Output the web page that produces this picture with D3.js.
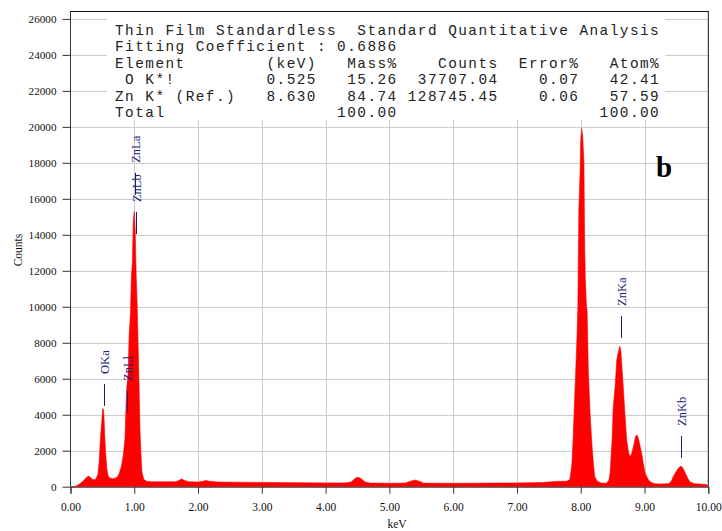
<!DOCTYPE html>
<html>
<head>
<meta charset="utf-8">
<script src="https://cdn.jsdelivr.net/npm/d3@7"></script>
<style>
  html, body { margin: 0; padding: 0; background: #fff; }
  svg { display: block; }
</style>
</head>
<body>
<svg id="chart" width="722" height="531"></svg>
<script>
// ---- Data ----
const spectrumKeV = [0.00,0.06,0.08,0.12,0.16,0.20,0.24,0.28,0.31,0.34,0.37,0.40,0.43,0.45,0.47,0.49,0.505,0.52,0.535,0.55,0.57,0.59,0.62,0.66,0.70,0.74,0.77,0.80,0.83,0.855,0.87,0.88,0.905,0.92,0.94,0.955,0.97,0.985,1.00,1.015,1.03,1.045,1.06,1.075,1.09,1.105,1.12,1.15,1.20,1.25,1.40,1.55,1.65,1.70,1.74,1.78,1.85,2.00,2.08,2.12,2.18,2.30,2.60,2.90,3.20,3.60,4.00,4.30,4.40,4.46,4.50,4.55,4.62,4.70,5.00,5.25,5.32,5.40,5.47,5.53,5.80,6.20,6.60,7.00,7.40,7.60,7.70,7.78,7.83,7.86,7.88,7.90,7.92,7.94,7.955,7.97,7.99,8.00,8.015,8.03,8.05,8.06,8.07,8.09,8.10,8.12,8.145,8.17,8.20,8.22,8.26,8.32,8.40,8.44,8.46,8.49,8.51,8.54,8.565,8.59,8.615,8.63,8.66,8.69,8.72,8.75,8.77,8.80,8.83,8.86,8.885,8.91,8.955,8.98,9.01,9.05,9.085,9.15,9.25,9.38,9.42,9.45,9.49,9.53,9.57,9.60,9.64,9.68,9.71,9.78,9.90,9.97,10.00];
const spectrumCounts = [0,0,30,100,200,320,480,590,530,420,380,440,700,1400,2700,3600,4350,4250,3000,1900,1000,600,470,440,470,560,800,1150,1800,2700,4500,5400,6400,8500,9600,11700,12400,14800,15300,14200,11700,10200,7900,5600,3100,1800,800,400,290,280,270,270,280,350,430,360,280,260,300,350,300,260,250,240,230,220,210,210,260,450,520,470,260,200,190,200,290,370,300,200,190,190,200,210,230,290,300,300,400,1200,2600,4500,6300,8200,10000,15400,17500,19300,19900,19500,18000,14000,11700,10000,9800,6300,4200,2600,1200,560,300,200,190,350,750,2500,4450,5600,7050,7500,7800,7500,5900,4200,2600,1900,1650,1850,2300,2800,2870,2600,1860,1300,750,450,280,170,150,170,300,560,800,1020,1150,1050,750,450,280,170,140,130,0];

const xTicks = [0,1,2,3,4,5,6,7,8,9,10];
const yTicks = [0,2000,4000,6000,8000,10000,12000,14000,16000,18000,20000,22000,24000,26000];

const peakNames = ["OKa","ZnLl","ZnLb","ZnLa","ZnKa","ZnKb"];
const peakKeV   = [0.525, 0.884, 1.034, 1.012, 8.630, 9.570];
const peakMarkCount = [4490, 4100, 14040, 16220, 8270, 1600];

const tableTitle = "Thin Film Standardless  Standard Quantitative Analysis";
const tableFit = "Fitting Coefficient : 0.6886";
const tableHeader = ["Element","(keV)","Mass%","Counts","Error%","Atom%"];
const tElements = [" O K*!", "Zn K* (Ref.)"];
const tKeV   = ["0.525","8.630"];
const tMass  = ["15.26","84.74"];
const tCounts= ["37707.04","128745.45"];
const tError = ["0.07","0.06"];
const tAtom  = ["42.41","57.59"];
const tTotal = ["Total","100.00","100.00"];

// ---- Layout ----
const svg = d3.select("#chart");
const pL = 70.5, pR = 708.3, pB = 486.7, pT = 11;
const x = d3.scaleLinear().domain([0,10]).range([pL, pR]);
const y = d3.scaleLinear().domain([0,26440]).range([pB, pT]);

// gridlines
const grid = svg.append("g").attr("stroke","#cccccc").attr("stroke-width",1);
grid.selectAll("line.h").data(yTicks.filter(d=>d>0)).join("line")
  .attr("x1", pL).attr("x2", pR)
  .attr("y1", d=>Math.round(y(d))+0.5).attr("y2", d=>Math.round(y(d))+0.5);
grid.selectAll("line.v").data(xTicks.filter(d=>d>0 && d<10)).join("line")
  .attr("y1", pT).attr("y2", pB)
  .attr("x1", d=>Math.round(x(d))+0.5).attr("x2", d=>Math.round(x(d))+0.5);

// table box
svg.append("rect").attr("x",107).attr("y",12).attr("width",558).attr("height",108).attr("fill","#fff");

const rows = [
  tableTitle,
  tableFit,
  tableHeader[0].padEnd(15) + tableHeader[1].padStart(5) + tableHeader[2].padStart(8) + tableHeader[3].padStart(10) + tableHeader[4].padStart(8) + tableHeader[5].padStart(8)
];
tElements.forEach((e,i)=>{
  rows.push(e.padEnd(15) + tKeV[i].padStart(5) + tMass[i].padStart(8) + tCounts[i].padStart(10) + tError[i].padStart(8) + tAtom[i].padStart(8));
});
rows.push(tTotal[0].padEnd(15) + "".padStart(5) + tTotal[1].padStart(8) + "".padStart(10) + "".padStart(8) + tTotal[2].padStart(8));

svg.append("g").selectAll("text").data(rows).join("text")
  .attr("x", 115).attr("y", (d,i)=>34.8 + i*16.5)
  .attr("xml:space","preserve")
  .style("white-space","pre")
  .attr("font-family","'Liberation Mono', 'Courier New', monospace")
  .attr("font-size", 14.4)
  .attr("letter-spacing", 1.46)
  .attr("fill","#222")
  .text(d=>d);

// spectrum
const pts = spectrumKeV.map((k,i)=>[k, spectrumCounts[i]]);
const area = d3.area().x(d=>x(d[0])).y0(y(0)).y1(d=>y(d[1])).curve(d3.curveLinear);
svg.append("path").datum(pts).attr("d", area).attr("fill","#ff0000").attr("stroke","#ff0000").attr("stroke-width",0.6);

// frame top & right
svg.append("line").attr("x1",pL).attr("x2",pR).attr("y1",pT+0.5).attr("y2",pT+0.5).attr("stroke","#111");
svg.append("line").attr("x1",pR).attr("x2",pR).attr("y1",pT).attr("y2",pB).attr("stroke","#111");

// axes
const xAxis = d3.axisBottom(x).tickValues(xTicks).tickFormat(d3.format(".2f")).tickSize(7).tickPadding(9);
const gx = svg.append("g").attr("transform",`translate(0,${pB})`).call(xAxis);
const yAxis = d3.axisLeft(y).tickValues(yTicks).tickFormat(d=>String(d)).tickSize(8).tickPadding(6);
const gy = svg.append("g").attr("transform",`translate(${pL},0)`).call(yAxis);
[gx, gy].forEach(g=>{
  g.select(".domain").attr("stroke","#333");
  g.selectAll(".tick line").attr("stroke","#333");
  g.selectAll("text").attr("font-family","'Liberation Serif', 'Times New Roman', serif").attr("font-size",11.5).attr("fill","#111");
});
gy.select(".domain").attr("d", `M0,${pT}V${pB}`);
gy.selectAll("text").attr("font-size",11.2);

// axis labels
svg.append("text").attr("x",397).attr("y",528).attr("text-anchor","middle")
  .attr("font-family","'Liberation Serif', serif").attr("font-size",11.5).attr("fill","#111").text("keV");
svg.append("text").attr("transform","translate(22,250) rotate(-90)").attr("text-anchor","middle")
  .attr("font-family","'Liberation Serif', serif").attr("font-size",11.5).attr("fill","#111").text("Counts");

// panel letter
svg.append("text").attr("x",656).attr("y",177)
  .attr("font-family","'Liberation Serif', serif").attr("font-weight","bold").attr("font-size",29).attr("fill","#000").text("b");

// peak markers
const pk = svg.append("g");
peakNames.forEach((n,i)=>{
  const px = Math.round(x(peakKeV[i]))+0.5;
  const py = y(peakMarkCount[i]);
  pk.append("line").attr("x1",px).attr("x2",px).attr("y1",py-22).attr("y2",py)
    .attr("stroke","#1c1c78").attr("stroke-width",1);
  pk.append("text").attr("transform",`translate(${px},${py-32}) rotate(-90)`)
    .attr("dy","0.35em").attr("text-anchor","start")
    .attr("font-family","'Liberation Serif', serif").attr("font-size",12.5).attr("fill","#1c1c78").text(n);
});
</script>
</body>
</html>
